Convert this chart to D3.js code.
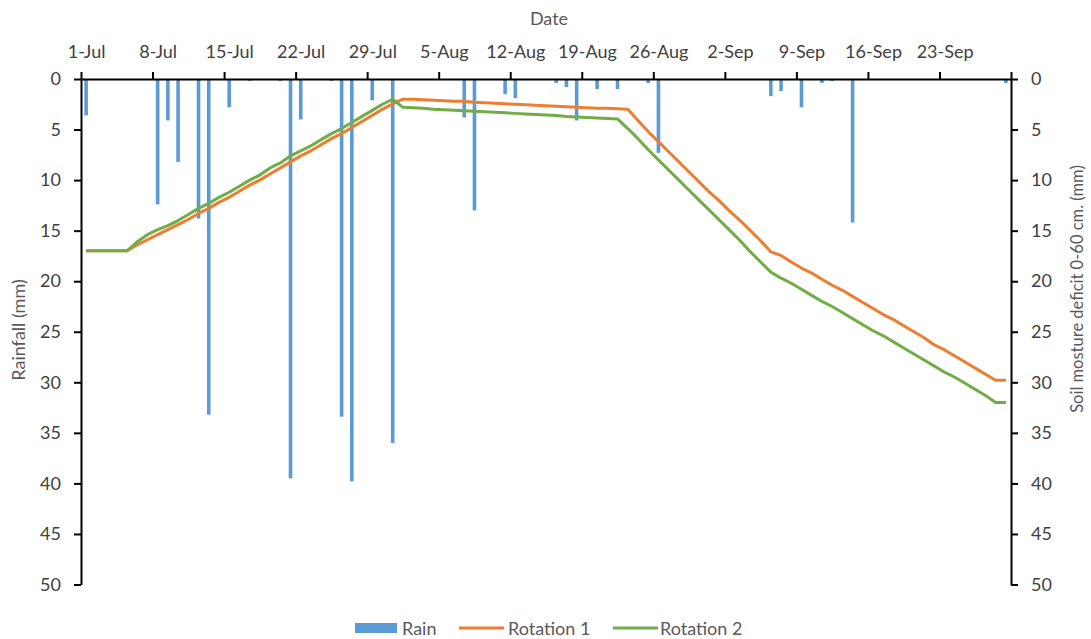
<!DOCTYPE html>
<html><head><meta charset="utf-8">
<script src="https://cdn.jsdelivr.net/npm/d3@7"></script>
<style>
html,body{margin:0;padding:0;background:#fff;}
svg text{font-family:Lato,"Open Sans",sans-serif;}
</style></head>
<body>
<svg id="chart" width="1091" height="639"></svg>
<script>
// ---- DATA ----
const startDate = "2019-07-01";
const endDate = "2019-09-30";
const tickLabels = ["1-Jul","8-Jul","15-Jul","22-Jul","29-Jul","5-Aug","12-Aug","19-Aug","26-Aug","2-Sep","9-Sep","16-Sep","23-Sep"];
const yTicks = [0,5,10,15,20,25,30,35,40,45,50];

const rainDates = ["2019-07-01","2019-07-08","2019-07-09","2019-07-10","2019-07-12","2019-07-13","2019-07-15","2019-07-17","2019-07-20","2019-07-21","2019-07-22","2019-07-25","2019-07-26","2019-07-27","2019-07-29","2019-07-31","2019-08-07","2019-08-08","2019-08-11","2019-08-12","2019-08-16","2019-08-17","2019-08-18","2019-08-20","2019-08-22","2019-08-25","2019-08-26","2019-09-06","2019-09-07","2019-09-09","2019-09-11","2019-09-12","2019-09-14","2019-09-29"];
const rainValues = [3.6,12.4,4.1,8.2,13.8,33.2,2.8,0.2,0.2,39.5,4.0,0.2,33.4,39.8,2.1,36.0,3.8,13.0,1.5,1.9,0.4,0.8,4.1,1.0,1.0,0.4,7.3,1.7,1.2,2.8,0.4,0.2,14.2,0.4];

// daily values from 1-Jul to 29-Sep
const rotation1 = [17,17,17,17,17,
 16.4,15.9,15.4,14.9,14.4,13.9,13.3,12.8,12.2,11.7,11.1,10.5,10.0,9.4,8.8,8.2,7.6,7.1,6.5,5.9,5.4,4.8,4.2,3.6,3.0,2.45,2.0,
 2.0,2.05,2.1,2.15,2.2,2.2,2.3,2.35,2.4,2.45,2.5,2.55,2.6,2.65,2.7,2.75,2.8,2.85,2.9,2.9,2.95,3.0,
 4.1,5.2,6.2,7.2,8.2,9.2,10.2,11.2,12.1,13.1,14.0,15.0,16.0,17.1,
 17.45,18.1,18.7,19.2,19.8,20.4,20.9,21.5,22.1,22.7,23.3,23.8,24.4,25.0,25.6,26.3,26.8,27.4,28.0,28.6,29.2,29.8,29.8];
const rotation2 = [17,17,17,17,17,
 16.1,15.4,14.9,14.5,14.0,13.4,12.8,12.3,11.7,11.2,10.6,10.0,9.5,8.8,8.3,7.6,7.1,6.6,6.0,5.4,4.9,4.3,3.7,3.1,2.5,2.0,
 2.8,2.85,2.9,3.0,3.05,3.1,3.15,3.2,3.25,3.3,3.35,3.4,3.45,3.5,3.55,3.6,3.7,3.75,3.8,3.85,3.9,3.95,
 4.9,5.9,7.0,8.0,9.0,10.0,11.0,12.0,13.0,14.0,15.0,16.0,17.1,18.1,19.1,
 19.7,20.2,20.8,21.4,22.0,22.5,23.1,23.7,24.3,24.9,25.4,26.0,26.6,27.2,27.8,28.4,29.0,29.5,30.1,30.7,31.3,32.0,32.0];

const seriesNames = ["Rain","Rotation 1","Rotation 2"];
const colors = {rain:"#5B9BD5", r1:"#ED7D31", r2:"#70AD47"};

// ---- CHART ----
const parse = d3.utcParse("%Y-%m-%d");
const t0 = parse(startDate), t1 = parse(endDate);
const lineDates = d3.utcDays(t0, t1);
const half = d => d3.utcHour.offset(d, 12);

const L = 81, R = 1011, T = 79, B = 584.5;
const x = d3.scaleUtc().domain([t0, t1]).range([L, R]);
const yRain = d3.scaleLinear().domain([0, 50]).range([T, B]);
const ySoil = d3.scaleLinear().domain([0, 50]).range([T, B]);

const svg = d3.select("#chart");

// rain bars
const rain = rainDates.map((d, i) => ({date: parse(d), v: rainValues[i]}));
svg.append("g").selectAll("rect").data(rain).join("rect")
  .attr("x", d => x(half(d.date)) - 1.8)
  .attr("width", 3.6)
  .attr("y", yRain(0))
  .attr("height", d => yRain(d.v) - yRain(0))
  .attr("fill", colors.rain);

// lines
const line = d3.line().x(d => x(half(d.date))).y(d => ySoil(d.v));
const r1 = lineDates.map((d, i) => ({date: d, v: rotation1[i]}));
const r2 = lineDates.map((d, i) => ({date: d, v: rotation2[i]}));
svg.append("path").datum(r1).attr("d", line).attr("fill", "none")
  .attr("stroke", colors.r1).attr("stroke-width", 3).attr("stroke-linejoin", "round");
svg.append("path").datum(r2).attr("d", line).attr("fill", "none")
  .attr("stroke", colors.r2).attr("stroke-width", 3).attr("stroke-linejoin", "round");

// axes
const weekTicks = d3.utcDays(t0, d3.utcDay.offset(t1, 1), 7);
const xAxis = svg.append("g").attr("transform", `translate(0,${T})`)
  .call(d3.axisTop(x).tickValues(weekTicks).tickSize(7).tickSizeOuter(0)
        .tickFormat((d, i) => tickLabels[i] || "").tickPadding(14));
xAxis.selectAll("text").attr("transform", `translate(${x(half(t0)) - x(t0)},0)`);

const yl = svg.append("g").attr("transform", `translate(${L},0)`)
  .call(d3.axisLeft(yRain).tickValues(yTicks).tickSize(7).tickSizeOuter(0).tickPadding(13));
const yr = svg.append("g").attr("transform", `translate(${R},0)`)
  .call(d3.axisRight(ySoil).tickValues(yTicks).tickSize(7).tickSizeOuter(0).tickPadding(13));

[xAxis, yl, yr].forEach(g => {
  g.select(".domain").attr("stroke", "#000").attr("stroke-width", 2);
  g.selectAll(".tick line").attr("stroke", "#000").attr("stroke-width", 2);
  g.selectAll(".tick text").attr("fill", "#404040").style("font-size", "18px").style("font-family", "Lato, sans-serif");
});

// titles
svg.append("text").attr("x", 549).attr("y", 25).attr("text-anchor", "middle")
  .attr("fill", "#595959").style("font-size", "18px").text("Date");
svg.append("text").attr("transform", "translate(25,330) rotate(-90)").attr("text-anchor", "middle")
  .attr("fill", "#595959").style("font-size", "18px").text("Rainfall (mm)");
svg.append("text").attr("transform", "translate(1083,289) rotate(-90)").attr("text-anchor", "middle")
  .attr("fill", "#595959").style("font-size", "16.5px").text("Soil mosture deficit 0-60 cm. (mm)");

// legend
const lg = svg.append("g").style("font-size", "18px");
lg.append("rect").attr("x", 355).attr("y", 623).attr("width", 42).attr("height", 10).attr("fill", colors.rain);
lg.append("text").attr("x", 402).attr("y", 634.5).attr("fill", "#595959").text(seriesNames[0]);
lg.append("line").attr("x1", 459).attr("x2", 504).attr("y1", 628).attr("y2", 628).attr("stroke", colors.r1).attr("stroke-width", 3);
lg.append("text").attr("x", 508).attr("y", 634.5).attr("fill", "#595959").text(seriesNames[1]);
lg.append("line").attr("x1", 613).attr("x2", 658).attr("y1", 628).attr("y2", 628).attr("stroke", colors.r2).attr("stroke-width", 3);
lg.append("text").attr("x", 660).attr("y", 634.5).attr("fill", "#595959").text(seriesNames[2]);
</script>
</body></html>
